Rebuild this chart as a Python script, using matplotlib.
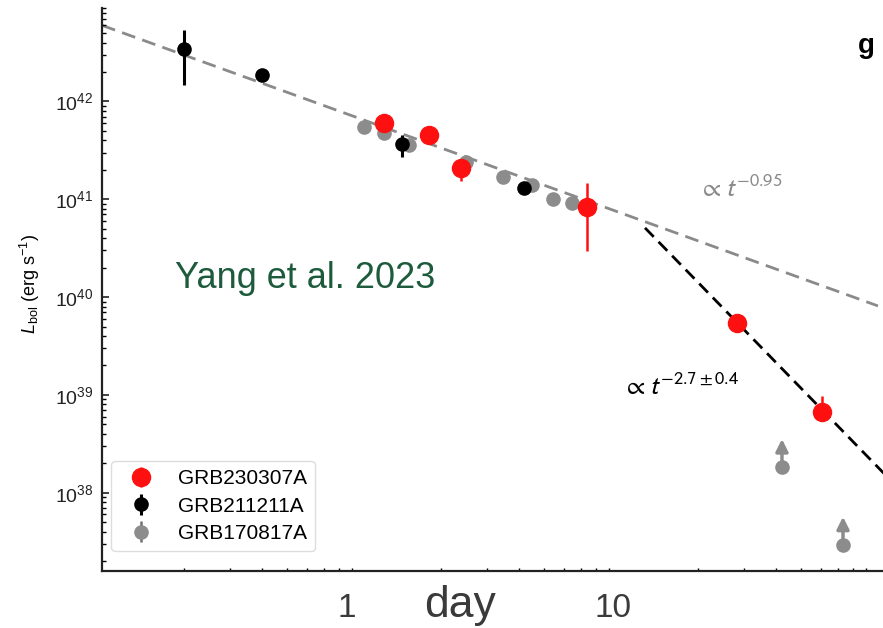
import numpy as np
import matplotlib.pyplot as plt
from matplotlib.transforms import ScaledTranslation
from matplotlib.ticker import LogLocator, NullFormatter, FixedLocator

plt.rcParams['font.family'] = ['Liberation Sans', 'DejaVu Sans']
plt.rcParams['mathtext.fontset'] = 'custom'
plt.rcParams['mathtext.rm'] = 'Liberation Sans'
plt.rcParams['mathtext.it'] = 'Liberation Sans:italic'
plt.rcParams['mathtext.bf'] = 'Liberation Sans:bold'

# GRB230307A (days, erg/s)
red_t = [1.2, 1.79, 2.39, 7.38, 28.3, 60.5]
red_L = [5.97e41, 4.5e41, 2.08e41, 8.3e40, 5.48e39, 6.65e38]
red_lo = [5.4e41, 4.1e41, 1.55e41, 2.97e40, 5.1e39, 5.6e38]
red_hi = [6.6e41, 5.0e41, 2.5e41, 1.46e41, 5.9e39, 9.7e38]

# GRB211211A
black_t = [0.2, 0.4, 1.41, 4.19]
black_L = [3.47e42, 1.88e42, 3.65e41, 1.3e41]
black_lo = [1.49e42, 1.78e42, 2.69e41, 1.25e41]
black_hi = [5.4e42, 1.98e42, 4.5e41, 1.35e41]

# GRB170817A
gray_t = [1.0, 1.2, 1.5, 2.5, 3.47, 4.5, 5.44, 6.45]
gray_L = [5.43e41, 4.72e41, 3.57e41, 2.39e41, 1.68e41, 1.4e41, 1.0e41, 9.1e40]
gray_lo = [5.1e41, 4.45e41, 3.35e41, 2.25e41, 1.58e41, 1.32e41, 0.94e41, 8.6e40]
gray_hi = [5.75e41, 5.0e41, 3.8e41, 2.55e41, 1.78e41, 1.48e41, 1.06e41, 9.6e40]
gray_lim_t = [42.3, 73.1]
gray_lim_L = [1.83e38, 2.94e37]

# power-law fits
early_norm, early_slope = 6.45e41, -0.95
early_t = [0.0956, 100]
late_break_t, late_break_L, late_slope = 12.4, 5.1e40, -2.7
late_t = [12.4, 110]

fig = plt.figure(figsize=(8.83, 6.28), dpi=100)
ax = fig.add_axes([0.1155, 0.0908, 0.8845, 0.8965])
ax.set_xscale('log')
ax.set_yscale('log')

te = np.array(early_t)
ax.plot(te, early_norm * te ** early_slope, ls='--', dashes=(5, 2.7),
        color='#8a8a8a', lw=2, zorder=1)
tl = np.array(late_t)
ax.plot(tl, late_break_L * (tl / late_break_t) ** late_slope, ls='--',
        dashes=(4.5, 2.5), color='black', lw=2, zorder=1)

def asym(L, lo, hi):
    L, lo, hi = map(np.array, (L, lo, hi))
    return [L - lo, hi - L]

h_gray = ax.errorbar(gray_t, gray_L, yerr=asym(gray_L, gray_lo, gray_hi), fmt='o',
                     ms=9.5, color='#8c8c8c', ecolor='#6e6e6e', elinewidth=1.8,
                     label='GRB170817A', zorder=2)
h_black = ax.errorbar(black_t, black_L, yerr=asym(black_L, black_lo, black_hi), fmt='o',
                      ms=9.5, color='black', elinewidth=2.2, label='GRB211211A', zorder=3)
h_red = ax.errorbar(red_t, red_L, yerr=asym(red_L, red_lo, red_hi), fmt='o',
                    ms=13, color='#ff1010', elinewidth=1.8, label='GRB230307A', zorder=4)

# lower limits
ax.plot(gray_lim_t, gray_lim_L, 'o', ms=9.5, color='#8c8c8c', zorder=2)
up = ax.transData + ScaledTranslation(0, 0.28, fig.dpi_scale_trans)
for t, L in zip(gray_lim_t, gray_lim_L):
    ax.annotate('', xy=(t, L), xycoords=up, xytext=(t, L), textcoords='data',
                arrowprops=dict(arrowstyle='-|>', color='#8c8c8c', lw=2.5,
                                mutation_scale=18, shrinkA=0, shrinkB=0))

ax.set_xlim(0.0956, 104.6)
ax.set_ylim(1.585e37, 9.03e42)

for s in ['top', 'right']:
    ax.spines[s].set_visible(False)
for s in ['left', 'bottom']:
    ax.spines[s].set_linewidth(1.6)
    ax.spines[s].set_color('#222222')

ax.yaxis.set_major_locator(LogLocator(base=10, numticks=20))
ax.yaxis.set_minor_locator(LogLocator(base=10, subs=np.arange(2, 10), numticks=20))
ax.yaxis.set_minor_formatter(NullFormatter())
ax.tick_params(axis='y', which='major', direction='in', length=5, width=1.2,
               labelsize=14, pad=6, colors='#222222')
ax.tick_params(axis='y', which='minor', direction='in', length=3, width=1)

ax.xaxis.set_major_locator(FixedLocator([1, 10]))
ax.xaxis.set_minor_locator(LogLocator(base=10, subs=np.arange(2, 10), numticks=20))
ax.xaxis.set_minor_formatter(NullFormatter())
ax.tick_params(axis='x', which='major', length=0, labelbottom=False)
ax.tick_params(axis='x', which='minor', direction='in', length=2.5, width=1)

xt = ax.get_xaxis_transform()
for val, lab, dx in [(1, '1', -0.17), (10, '10', -0.08)]:
    ax.text(val, -0.0817, lab, transform=xt + ScaledTranslation(dx, 0, fig.dpi_scale_trans),
            ha='center', va='baseline', fontsize=24, color='#3a3a3a')
fig.text(0.521, 0.0175, 'day', ha='center', va='baseline', fontsize=32, color='#3a3a3a')

ax.set_ylabel(r'$L_{\rm bol}$ (erg s$^{-1}$)', fontsize=13)
ax.yaxis.set_label_coords(-0.077, 0.51)

ax.text(0.093, 0.502, 'Yang et al. 2023', transform=ax.transAxes, fontsize=26,
        color='#1d5b3c', ha='left', va='baseline')
ax.text(0.765, 0.664, r'$\propto t^{-0.95}$', transform=ax.transAxes, fontsize=19,
        color='#8a8a8a', math_fontfamily='stixsans', ha='left', va='baseline')
ax.text(0.667, 0.313, r'$\propto t^{-2.7\pm0.4}$', transform=ax.transAxes, fontsize=19,
        color='black', math_fontfamily='stixsans', ha='left', va='baseline')
fig.text(0.981, 0.916, 'g', fontsize=20, fontweight='bold', ha='center', va='baseline')

leg = ax.legend(handles=[h_red, h_black, h_gray], loc='lower left',
                bbox_to_anchor=(0.012, 0.035), borderaxespad=0, fontsize=15,
                labelspacing=0.4, handlelength=2, handletextpad=0.8,
                frameon=True, fancybox=True, framealpha=1, edgecolor='#dddddd')

fig.savefig('out.png', dpi=100)
